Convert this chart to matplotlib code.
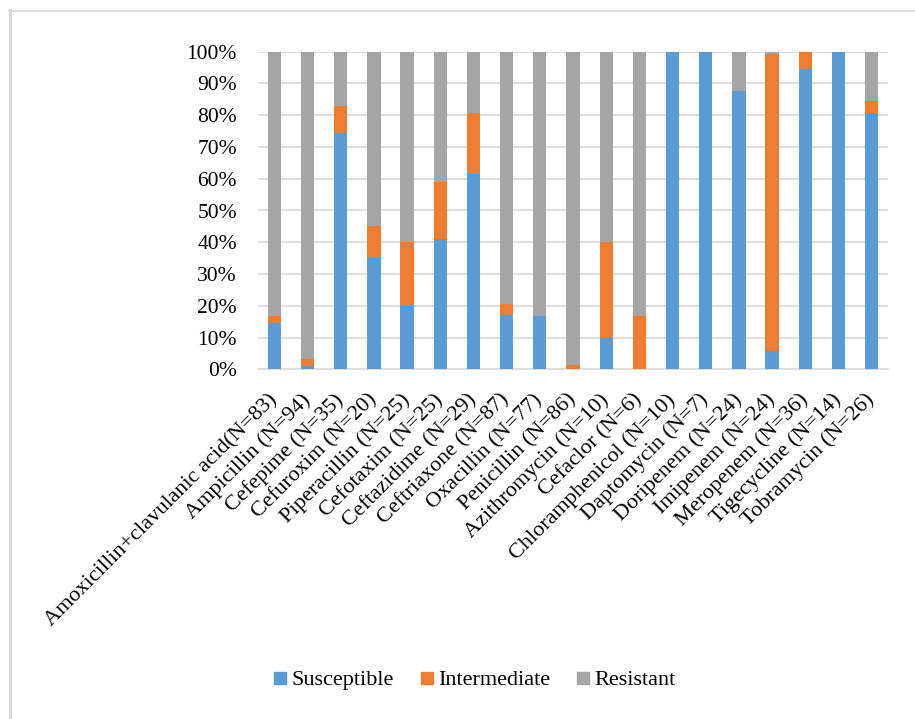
import matplotlib
matplotlib.use("Agg")
import matplotlib.pyplot as plt
import numpy as np
from matplotlib.lines import Line2D

# Antibiotic categories with isolate counts
antibiotics = [
    "Amoxicillin+clavulanic acid(N=83)", "Ampicillin (N=94)", "Cefepime (N=35)",
    "Cefuroxim (N=20)", "Piperacillin (N=25)", "Cefotaxim (N=25)",
    "Ceftazidime (N=29)", "Ceftriaxone (N=87)", "Oxacillin (N=77)",
    "Penicillin (N=86)", "Azithromycin (N=10)", "Cefaclor (N=6)",
    "Chloramphenicol (N=10)", "Daptomycin (N=7)", "Doripenem (N=24)",
    "Imipenem (N=24)", "Meropenem (N=36)", "Tigecycline (N=14)",
    "Tobramycin (N=26)",
]

# Percentages per category
susceptible = [14.5, 1.1, 74.3, 35.0, 20.0, 41.0, 61.6, 17.2, 16.9, 0.0,
               10.0, 0.0, 100.0, 100.0, 87.5, 5.8, 94.4, 100.0, 80.8]
intermediate = [2.4, 2.3, 8.6, 10.0, 20.0, 18.0, 19.2, 3.5, 0.0, 1.2,
                30.0, 16.7, 0.0, 0.0, 0.0, 93.6, 5.6, 0.0, 3.8]
resistant = [83.1, 96.6, 17.1, 55.0, 60.0, 41.0, 19.2, 79.3, 83.1, 98.8,
             60.0, 83.3, 0.0, 0.0, 12.5, 0.6, 0.0, 0.0, 15.4]

series_names = ["Susceptible", "Intermediate", "Resistant"]
colors = ["#5B9BD5", "#ED7D31", "#A5A5A5"]

plt.rcParams["font.family"] = ["Liberation Serif", "DejaVu Serif"]

W, H = 915, 719
fig = plt.figure(figsize=(W / 100, H / 100), dpi=100)
ax = fig.add_axes([257.7 / W, 1 - 369.3 / H, (888.3 - 257.7) / W, (369.3 - 51.7) / H])

x = np.arange(len(antibiotics))
s = np.array(susceptible) / 100
i = np.array(intermediate) / 100
r = np.array(resistant) / 100
width = 0.4
ax.bar(x, s, width, color=colors[0], zorder=3)
ax.bar(x, i, width, bottom=s, color=colors[1], zorder=3)
ax.bar(x, r, width, bottom=s + i, color=colors[2], zorder=3)

ax.set_xlim(-0.5, len(antibiotics) - 0.5)
ax.set_ylim(0, 1)
ax.set_yticks(np.arange(0, 1.01, 0.1))
ax.set_yticklabels([f"{int(round(v * 100))}%" for v in np.arange(0, 1.01, 0.1)])
ax.yaxis.grid(True, color="#D9D9D9", linewidth=1.2, zorder=0)
ax.set_axisbelow(True)
for side in ["top", "right", "left"]:
    ax.spines[side].set_visible(False)
ax.spines["bottom"].set_color("#D9D9D9")
ax.spines["bottom"].set_linewidth(1.2)

ax.set_xticks(x)
ax.set_xticklabels(antibiotics, rotation=45, ha="right", va="center",
                   rotation_mode="anchor", fontsize=16)
ax.tick_params(axis="x", length=0, pad=20)
ax.tick_params(axis="y", length=0, pad=15, labelsize=15.5)

handles = [Line2D([], [], marker="s", linestyle="none", markersize=8,
                  markerfacecolor=c, markeredgecolor=c) for c in colors]
fig.legend(handles, series_names, loc="center", ncol=3,
           bbox_to_anchor=(474.5 / W, 1 - 680 / H), frameon=False,
           fontsize=16, handlelength=0.6, handletextpad=0.2,
           columnspacing=1.2)

# Light frame lines along the top and left edges
fig.add_artist(Line2D([8.5 / W, 1.0], [1 - 10.8 / H, 1 - 10.8 / H],
                      transform=fig.transFigure, color="#D9D9D9", linewidth=1.2))
fig.add_artist(Line2D([9.5 / W, 9.5 / W], [0.0, 1 - 10.2 / H],
                      transform=fig.transFigure, color="#D9D9D9", linewidth=2.2))

fig.savefig("out.png", dpi=100)
